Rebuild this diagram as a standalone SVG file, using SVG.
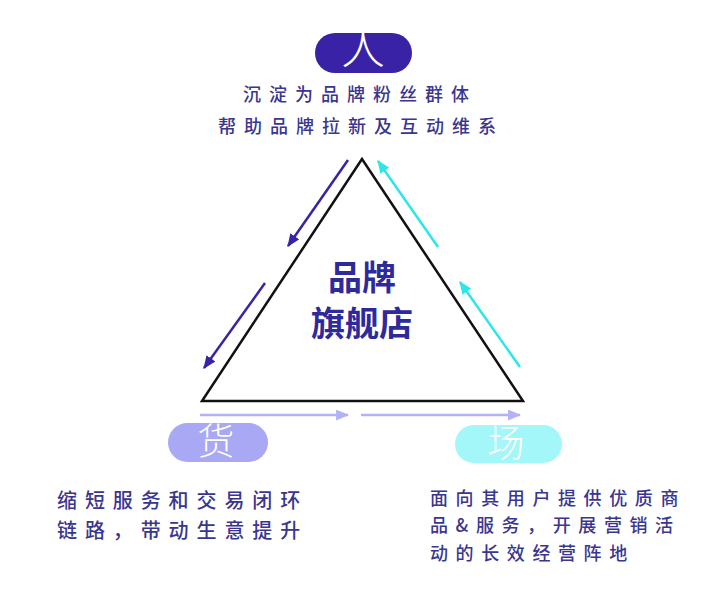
<svg xmlns="http://www.w3.org/2000/svg" width="717" height="595" viewBox="0 0 717 595">
<style>
.cap{font-family:"Noto Sans CJK SC","Noto Sans",sans-serif;fill:#3a3690;font-weight:500;}
.pill{font-family:"Noto Sans CJK SC",sans-serif;fill:#ffffff;font-weight:300;text-anchor:middle;}
.ctr{font-family:"Noto Sans CJK SC",sans-serif;fill:#2f2a9c;font-weight:700;font-size:34px;text-anchor:middle;}
</style>
<defs>
<marker id="hd" viewBox="0 0 12 10" refX="11" refY="5" markerWidth="13" markerHeight="11" markerUnits="userSpaceOnUse" orient="auto"><path d="M0,0 L12,5 L0,10 Z" fill="#3a22a6"/></marker>
<marker id="hc" viewBox="0 0 12 10" refX="11" refY="5" markerWidth="13" markerHeight="11" markerUnits="userSpaceOnUse" orient="auto"><path d="M0,0 L12,5 L0,10 Z" fill="#2ee6ea"/></marker>
<marker id="hl" viewBox="0 0 12 10" refX="11" refY="5" markerWidth="13" markerHeight="11" markerUnits="userSpaceOnUse" orient="auto"><path d="M0,0 L12,5 L0,10 Z" fill="#b3b2f6"/></marker>
</defs>
<rect width="717" height="595" fill="#ffffff"/>
<g id="triangle">
<polygon points="362,159 202,401 523,401" fill="none" stroke="#111111" stroke-width="2.5" stroke-linejoin="miter"/>
<text class="ctr" x="362" y="290">品牌</text>
<text class="ctr" x="362" y="336">旗舰店</text>
</g>
<g id="connectors" fill="none" stroke-width="2.5">
<line x1="348" y1="160" x2="288" y2="246" stroke="#3a22a6" marker-end="url(#hd)"/>
<line x1="265" y1="283" x2="204" y2="368" stroke="#3a22a6" marker-end="url(#hd)"/>
<line x1="438" y1="247" x2="378" y2="161" stroke="#2ee6ea" marker-end="url(#hc)"/>
<line x1="520" y1="367" x2="460" y2="282" stroke="#2ee6ea" marker-end="url(#hc)"/>
<line x1="200" y1="415" x2="348" y2="415" stroke="#b3b2f6" marker-end="url(#hl)"/>
<line x1="361" y1="415" x2="520" y2="415" stroke="#b3b2f6" marker-end="url(#hl)"/>
</g>
<g id="ren">
<rect x="315" y="33" width="97" height="40" rx="20" fill="#3a22a6"/>
<text class="pill" x="363" y="64" font-size="44">人</text>
<text class="cap" font-size="18" letter-spacing="8" x="243" y="101">沉淀为品牌粉丝群体</text>
<text class="cap" font-size="18" letter-spacing="8" x="218" y="133">帮助品牌拉新及互动维系</text>
</g>
<g id="huo">
<rect x="168" y="423" width="100" height="39" rx="19.5" fill="#a9a8f5"/>
<text class="pill" x="216" y="455" font-size="37">货</text>
<text class="cap" font-size="20" letter-spacing="7.9" x="57" y="508">缩短服务和交易闭环</text>
<text class="cap" font-size="20" letter-spacing="7.9" x="57" y="538">链路，带动生意提升</text>
</g>
<g id="chang">
<rect x="455" y="425" width="107" height="38" rx="19" fill="#a3f7f8"/>
<text class="pill" x="506" y="457" font-size="37">场</text>
<text class="cap" font-size="18" letter-spacing="7.6" x="430" y="505">面向其用户提供优质商</text>
<text class="cap" font-size="18" letter-spacing="7.6" x="430" y="532">品&amp;服务，开展营销活</text>
<text class="cap" font-size="18" letter-spacing="7.6" x="430" y="560">动的长效经营阵地</text>
</g>
</svg>
